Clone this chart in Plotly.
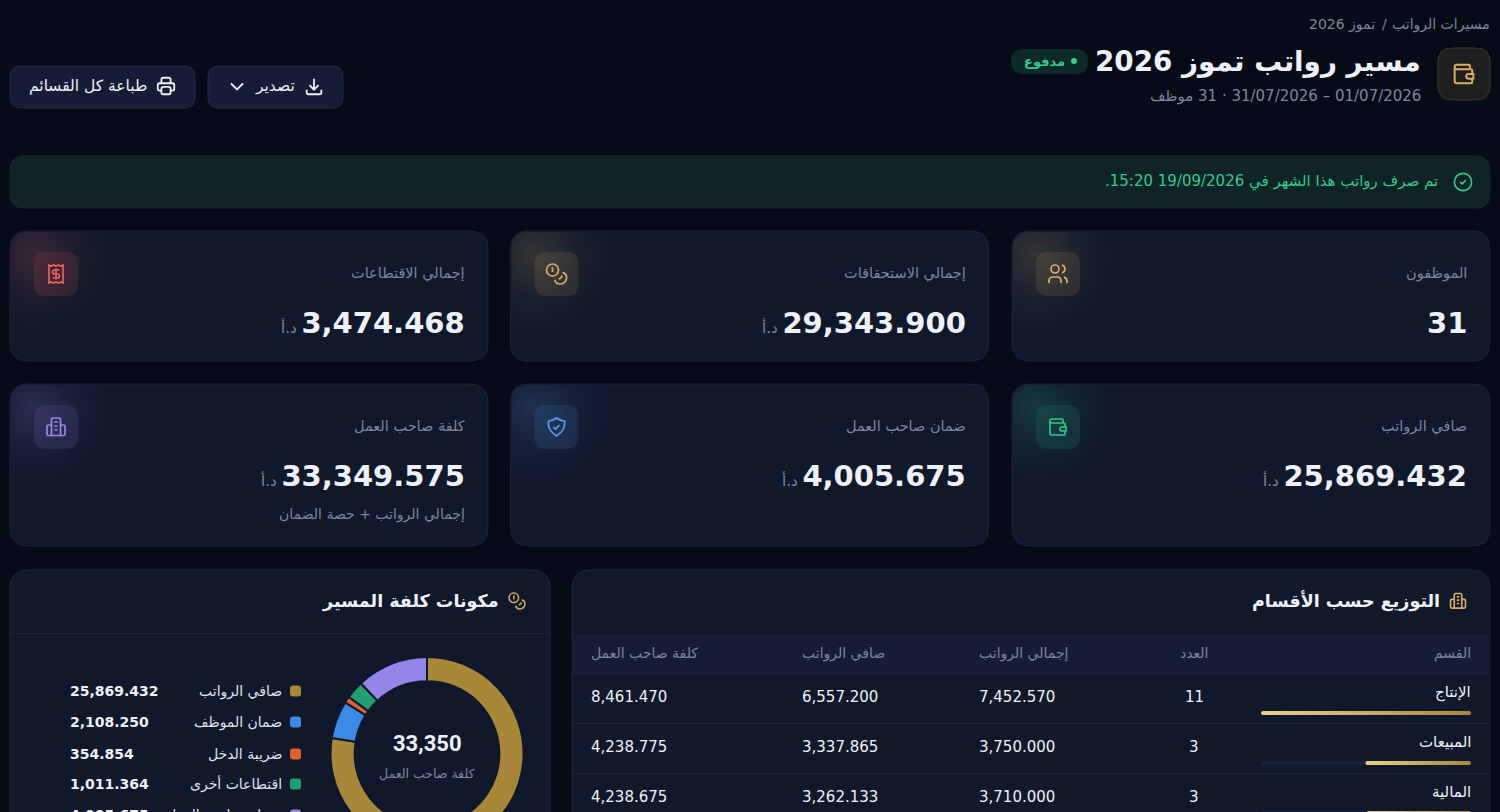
import base64
import re

import plotly.graph_objects as go

# kpi cards
kpi_labels = ['الموظفون', 'إجمالي الاستحقاقات', 'إجمالي الاقتطاعات',
              'صافي الرواتب', 'ضمان صاحب العمل', 'كلفة صاحب العمل']
kpi_values = ['31', '29,343.900', '3,474.468', '25,869.432', '4,005.675', '33,349.575']
kpi_units = ['', 'د.أ', 'د.أ', 'د.أ', 'د.أ', 'د.أ']
kpi_colors = ['#d9ad62', '#d9ad62', '#f0605f', '#2fc58c', '#5b9df0', '#9a86ec']

# donut
cost_labels = ['صافي الرواتب', 'ضمان الموظف', 'ضريبة الدخل', 'اقتطاعات أخرى', 'ضمان صاحب العمل']
cost_values = [25869.432, 2108.250, 354.854, 1011.364, 4005.675]
cost_colors = ['#a98739', '#3b8ae6', '#e0622f', '#1fa06e', '#9585e8']
cost_total_label = '33,350'

# department table
table_headers = ['القسم', 'العدد', 'إجمالي الرواتب', 'صافي الرواتب', 'كلفة صاحب العمل']
departments = ['الإنتاج', 'المبيعات', 'المالية']
dept_counts = [11, 3, 3]
dept_gross = [7452.570, 3750.000, 3710.000]
dept_net = [6557.200, 3337.865, 3262.133]
dept_cost = [8461.470, 4238.775, 4238.675]

W, H = 1500, 1000
PAGE = '#070b18'
CARD = '#10182b'
LINE = '#1c2439'
MUTED = '#7c869e'
WHITE = '#eef1f8'
GOLD = '#d9ad62'
GREEN = '#34c98f'
FONT = 'DejaVu Sans'

ICONS = {
    'wallet': 'M17 8 L17 5 Q17 4 16 4 L6 4 Q4 4 4 6 Q4 8 6 8 L18 8 Q19 8 19 9 L19 12 M19 16 L19 19 Q19 20 18 20 '
              'L6 20 Q4 20 4 18 L4 6 M20 12 L20 16 L16 16 Q14 16 14 14 Q14 12 16 12 L20 12 Z',
    'users': 'M3 21 L3 19 Q3 15 7 15 L11 15 Q15 15 15 19 L15 21 M16 3.13 Q19 4 19 7 Q19 10 16 10.87 '
             'M21 21 L21 19 Q21 16 18 15.1',
    'coins': 'M18.09 10.37 C21 11.5 22.5 14 21.9 16.9 C21 20.5 18 22 15.5 22 C13 22 11 20.5 10.34 18 '
             'M7 6 L8 6 L8 10 M16.71 13.88 L17.41 14.59 L14.59 17.41',
    'receipt': 'M5 3 L7.3 4 L9.6 3 L12 4 L14.4 3 L16.7 4 L19 3 L19 21 L16.7 20 L14.4 21 L12 20 L9.6 21 L7.3 20 '
               'L5 21 Z M15.5 8 L10.5 8 Q8.5 8 8.5 10 Q8.5 12 10.5 12 L13.5 12 Q15.5 12 15.5 14 Q15.5 16 13.5 16 '
               'L8.5 16 M12 6.5 L12 17.5',
    'shield': 'M12 3 Q16 6 20 6 Q21.5 15 12 21 Q2.5 15 4 6 Q8 6 12 3 Z M9 12 L11 14 L15 10',
    'building': 'M7.5 20.5 L7.5 5 Q7.5 3 9.5 3 L14.5 3 Q16.5 3 16.5 5 L16.5 20.5 Z M7.5 10 L4.5 10 Q3 10 3 11.5 '
                'L3 19 Q3 20.5 4.5 20.5 L19.5 20.5 Q21 20.5 21 19 L21 11.5 Q21 10 19.5 10 L16.5 10 M10.5 7 L13.5 7 '
                'M10.5 11 L13.5 11 M10.5 15 L13.5 15',
    'download': 'M4 16 L4 19 Q4 21 6 21 L18 21 Q20 21 20 19 L20 16 M7 11 L12 16 L17 11 M12 4 L12 16',
    'printer': 'M17 17 L19 17 Q21 17 21 15 L21 11 Q21 9 19 9 L5 9 Q3 9 3 11 L3 15 Q3 17 5 17 L7 17 M17 9 L17 5 '
               'Q17 3 15 3 L9 3 Q7 3 7 5 L7 9 M7 15 Q7 13 9 13 L15 13 Q17 13 17 15 L17 19 Q17 21 15 21 L9 21 '
               'Q7 21 7 19 Z',
    'chevron': 'M6 9 L12 15 L18 9',
    'check': 'M9 12 L11 14 L15 10',
}


def circle_path(cx, cy, r):
    k = r * 0.5523
    return (f'M{cx - r} {cy} C{cx - r} {cy - k} {cx - k} {cy - r} {cx} {cy - r} '
            f'C{cx + k} {cy - r} {cx + r} {cy - k} {cx + r} {cy} '
            f'C{cx + r} {cy + k} {cx + k} {cy + r} {cx} {cy + r} '
            f'C{cx - k} {cy + r} {cx - r} {cy + k} {cx - r} {cy} Z')


ICONS['users'] += ' ' + circle_path(9, 7, 4)
ICONS['coins'] += ' ' + circle_path(8, 8, 6)
ICONS['check'] += ' ' + circle_path(12, 12, 9)


def round_rect(x0, y0, x1, y1, r):
    return (f'M{x0 + r} {y0} L{x1 - r} {y0} Q{x1} {y0} {x1} {y0 + r} L{x1} {y1 - r} Q{x1} {y1} {x1 - r} {y1} '
            f'L{x0 + r} {y1} Q{x0} {y1} {x0} {y1 - r} L{x0} {y0 + r} Q{x0} {y0} {x0 + r} {y0} Z')


def alpha(color, a):
    r, g, b = (int(color[k:k + 2], 16) for k in (1, 3, 5))
    return f'rgba({r},{g},{b},{a})'


fig = go.Figure()
shapes = []
images = []
notes = []


def box(x0, y0, x1, y1, r, fill, line=None, width=1, layer='below'):
    shapes.append(dict(type='path', path=round_rect(x0, y0, x1, y1, r), fillcolor=fill, layer=layer,
                       line=dict(color=line or fill, width=width if line else 0), xref='x', yref='y'))


def icon(name, cx, cy, size, color, width=1.8):
    scale = size / 24

    def move(match):
        cmd, nums = match.group(1), re.findall(r'-?[\d.]+', match.group(2))
        out = []
        for i, n in enumerate(nums):
            origin = (cx if i % 2 == 0 else cy) - size / 2
            out.append(f'{origin + float(n) * scale:.2f}')
        return cmd + ' '.join(out) + ' '

    path = re.sub(r'([MLQCZ])([^MLQCZ]*)', move, ICONS[name])
    shapes.append(dict(type='path', path=path, layer='above', xref='x', yref='y',
                       line=dict(color=color, width=width), fillcolor='rgba(0,0,0,0)'))


def text(x, y, s, size=14, color=WHITE, bold=False, anchor='right', family=FONT):
    # the svg text has no dir attribute, so embed it right to left
    notes.append(dict(x=x, y=y, xref='x', yref='y', text='\u202b' + s, showarrow=False, xanchor=anchor,
                      yanchor='middle', borderpad=0, borderwidth=0,
                      font=dict(family=family, size=size, color=color, weight='bold' if bold else 'normal')))


def svg_image(body, x, y, w, h):
    svg = f'<svg xmlns="http://www.w3.org/2000/svg" width="{w}" height="{h}" viewBox="0 0 {w} {h}" ' \
          f'preserveAspectRatio="none">{body}</svg>'
    source = 'data:image/svg+xml;base64,' + base64.b64encode(svg.encode()).decode()
    images.append(dict(source=source, x=x, y=y, sizex=w, sizey=h, xref='x', yref='y', xanchor='left', yanchor='top',
                       sizing='stretch', layer='above'))


def glow(x, y, color):
    body = (f'<defs><radialGradient id="g" gradientUnits="userSpaceOnUse" cx="24" cy="24" r="76">'
            f'<stop offset="0" stop-color="{color}" stop-opacity="0.18"/>'
            f'<stop offset="0.55" stop-color="{color}" stop-opacity="0.06"/>'
            f'<stop offset="1" stop-color="{color}" stop-opacity="0"/></radialGradient></defs>'
            f'<path d="M18 1 L100 1 L100 100 L1 100 L1 18 Q1 1 18 1 Z" fill="url(#g)"/>')
    svg_image(body, x, y, 100, 100)


def gold_bar(x0, x1, y):
    w = x1 - x0
    body = ('<defs><linearGradient id="b"><stop offset="0" stop-color="#ecd08e"/>'
            '<stop offset="1" stop-color="#a98739"/></linearGradient></defs>'
            f'<rect width="{w}" height="4" rx="2" fill="url(#b)"/>')
    svg_image(body, x0, y, w, 4)


# breadcrumb and title block
text(1490, 24, 'مسيرات الرواتب', 14, MUTED)
text(1387, 24, '/', 14, MUTED)
text(1375, 24, 'تموز 2026', 14, MUTED)
box(1438, 48, 1490, 100, 14, '#201f20', '#3b3629')
icon('wallet', 1464, 74, 28, GOLD, 2)
text(1421, 61, 'مسير رواتب تموز 2026', 27.8, WHITE, True)
box(1011, 49, 1088, 74, 12.5, '#0c2a28')
shapes.append(dict(type='circle', x0=1071, x1=1077, y0=58, y1=64, xref='x', yref='y', layer='above',
                   fillcolor=GREEN, line=dict(width=0)))
text(1065, 61, 'مدفوع', 13, GREEN, True)
text(1421, 96, '01/07/2026 – 31/07/2026 · 31 موظف', 15, MUTED)

# buttons
box(208, 66, 343, 108, 11, '#141c36', '#232b45')
icon('download', 314, 86, 22, WHITE)
text(295, 86, 'تصدير', 15.5)
icon('chevron', 237, 86.5, 24, WHITE)
box(10, 66, 195, 108, 11, '#141c36', '#232b45')
icon('printer', 166, 86, 22, WHITE)
text(147, 86, 'طباعة كل القسائم', 15.5)

# paid notice
box(10, 156, 1490, 208, 14, '#0f2426', '#10282a')
icon('check', 1463, 182, 23, GREEN, 1.6)
text(1438, 181, 'تم صرف رواتب هذا الشهر في 19/09/2026 15:20.', 15, GREEN)

# kpi grid
card_lefts = [1012, 510.5, 10]
icon_names = ['users', 'coins', 'receipt', 'wallet', 'shield', 'building']
for i, label in enumerate(kpi_labels):
    left = card_lefts[i % 3]
    top, bottom = (231, 361) if i < 3 else (384, 546)
    right = left + 478
    box(left, top, right, bottom, 18, CARD, LINE)
    glow(left, top, kpi_colors[i])
    box(left + 24, top + 21, left + 68, top + 65, 12, alpha(kpi_colors[i], 0.12), layer='above')
    icon(icon_names[i], left + 46, top + 43, 24, kpi_colors[i], 1.7)
    text(right - 23, top + 42, label, 14.5, MUTED)
    unit = f'<span style="font-size:15px;color:{MUTED};font-weight:normal"> {kpi_units[i]}</span>' if kpi_units[i] else ''
    text(right - 23, top + 92, kpi_values[i] + unit, 29, WHITE, True)
text(465, 514, 'إجمالي الرواتب + حصة الضمان', 14, MUTED)

# cost panel
box(10, 570, 550, H + 40, 18, CARD, LINE)
shapes.append(dict(type='line', x0=10, x1=550, y0=633.5, y1=633.5, xref='x', yref='y', layer='below',
                   line=dict(color=LINE, width=1)))
icon('coins', 517, 601, 19, GOLD, 1.5)
text(499, 601, 'مكونات كلفة المسير', 17.5, WHITE, True)

cx, cy, radius = 427, 753.5, 96.5
fig.add_trace(go.Pie(
    values=cost_values, labels=cost_labels, sort=False, direction='clockwise', rotation=0, hole=0.75,
    marker=dict(colors=cost_colors, line=dict(color=CARD, width=2)), textinfo='none', hoverinfo='skip',
    showlegend=False,
    domain=dict(x=[(cx - radius) / W, (cx + radius) / W], y=[1 - (cy + radius) / H, 1 - (cy - radius) / H]),
))
text(cx, 743, cost_total_label, 22, WHITE, True, 'center', 'Roboto')
text(cx, 773, 'كلفة صاحب العمل', 12.5, MUTED, False, 'center')

legend_rows = [691, 722, 754, 784, 815]
for label, value, color, y in zip(cost_labels, cost_values, cost_colors, legend_rows):
    box(290, y - 5.5, 301, y + 5.5, 3, color)
    text(282, y, label, 14, '#dfe3ec')
    text(70, y, f'{value:,.3f}', 14, WHITE, True, 'left')

# department panel
box(572, 570, 1490, H + 40, 18, CARD, LINE)
shapes.append(dict(type='rect', x0=573, x1=1489, y0=634, y1=673, xref='x', yref='y', layer='below',
                   fillcolor='#151d35', line=dict(width=0)))
icon('building', 1458, 601, 20, GOLD, 1.6)
text(1440, 601, 'التوزيع حسب الأقسام', 17.5, WHITE, True)

header_x = [1471, 1194, 979, 802, 591]
for j, head in enumerate(table_headers):
    text(header_x[j], 653, head, 14, MUTED, False, ['right', 'center', 'left', 'left', 'left'][j])

row_tops = [673, 723, 773]
for i, dept in enumerate(departments):
    top = row_tops[i]
    shapes.append(dict(type='line', x0=573, x1=1489, y0=top + 0.5, y1=top + 0.5, xref='x', yref='y', layer='below',
                       line=dict(color=LINE, width=1)))
    text(1471, top + 19, dept, 15)
    box(1261, top + 38, 1471, top + 42, 2, '#18213a')
    gold_bar(1471 - 210 * dept_gross[i] / max(dept_gross), 1471, top + 38)
    text(1194, top + 24, str(dept_counts[i]), 15, WHITE, False, 'center')
    text(979, top + 24, f'{dept_gross[i]:,.3f}', 15, WHITE, False, 'left')
    text(802, top + 24, f'{dept_net[i]:,.3f}', 15, WHITE, False, 'left')
    text(591, top + 24, f'{dept_cost[i]:,.3f}', 15, WHITE, False, 'left')

fig.update_layout(
    width=W, height=H, autosize=False, margin=dict(l=0, r=0, t=0, b=0),
    paper_bgcolor=PAGE, plot_bgcolor=PAGE, showlegend=False,
    xaxis=dict(range=[0, W], visible=False, fixedrange=True),
    yaxis=dict(range=[H, 0], visible=False, fixedrange=True),
    shapes=shapes, images=images, annotations=notes,
)

fig.write_html('out.html', config=dict(displayModeBar=False),
               post_script="document.body.style.margin='0';document.body.style.overflow='hidden';")
